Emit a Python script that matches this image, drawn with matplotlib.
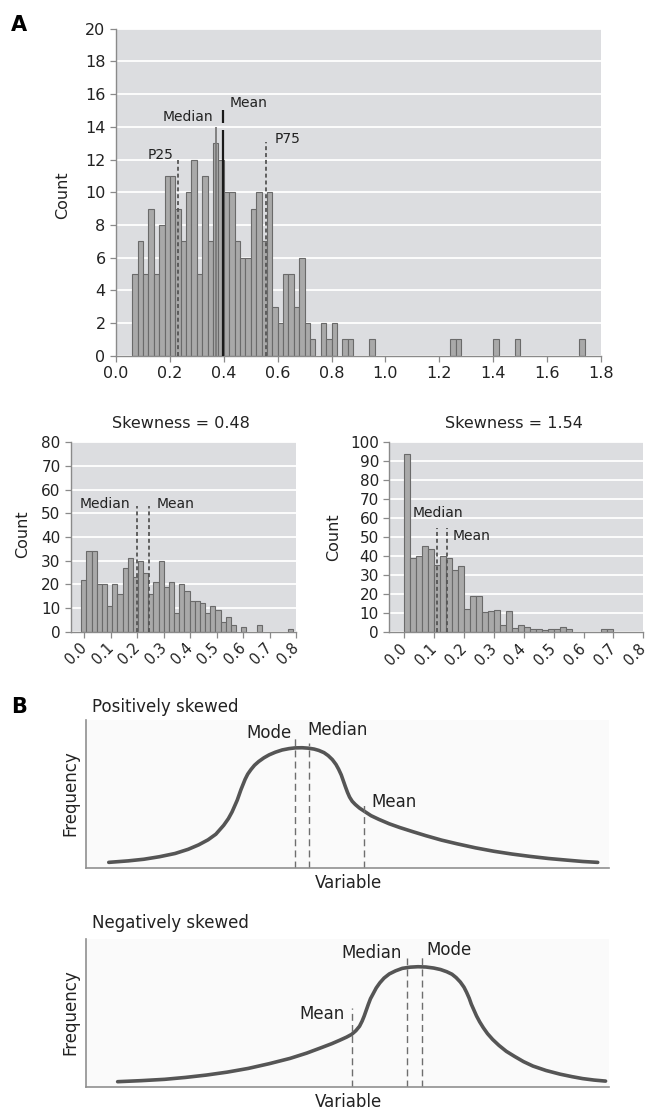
import numpy as np
import matplotlib
matplotlib.use("Agg")
import matplotlib.pyplot as plt

W, H = 648, 1112
plt.rcParams["font.family"] = ["DejaVu Sans"]

# ---- panel A, top histogram: bins of 0.02 starting at 0.06 ----
top_counts = [5, 7, 5, 9, 5, 8, 11, 11, 9, 7, 10, 12, 5, 11, 7, 13, 12, 10, 10, 7,
              6, 6, 9, 10, 7, 10, 3, 2, 5, 5, 3, 6, 2, 1, 0, 2, 1, 2, 0, 1,
              1, 0, 0, 0, 1]
top_out_left = [1.24, 1.26, 1.40, 1.48, 1.72]
top_out_counts = [1, 1, 1, 1, 1]
top_stats = {"P25": 0.231, "Median": 0.37, "Mean": 0.397, "P75": 0.556}
top_xticks = [0.0, 0.2, 0.4, 0.6, 0.8, 1.0, 1.2, 1.4, 1.6, 1.8]

# ---- panel A, small histograms ----
left_counts = [22, 34, 34, 20, 20, 11, 20, 16, 27, 31, 23, 30, 25, 16, 21, 30, 19, 21, 8, 20,
               17, 13, 13, 12, 8, 11, 9, 4, 6, 3, 0, 2, 0, 0, 3, 0, 0, 0, 0, 0, 1]
left_median, left_mean = 0.20, 0.245
right_counts = [94, 39, 40, 45.5, 44, 35.5, 40, 39, 33, 35, 12.5, 19, 19, 10.5, 11, 11.5,
                4, 11, 2.5, 4, 3, 2, 1.5, 1, 2, 1.5, 3, 1.5, 0, 0, 0, 0, 0, 1.5, 1.5]
right_median, right_mean = 0.108, 0.142
small_xticks = [0.0, 0.1, 0.2, 0.3, 0.4, 0.5, 0.6, 0.7, 0.8]

# ---- panel B, schematic curves (0-100 units) ----
pos_x = [4.3, 8, 11, 14, 17, 19.5, 21.5, 23.3, 24.8, 26.3, 27.2, 27.9, 28.4, 28.9, 29.6,
         30.4, 30.9, 31.5, 32.2, 33, 34, 35, 36.2, 37.5, 38.8, 40, 41.3, 42.5, 43.6, 44.5,
         45.5, 46.3, 47.1, 47.8, 48.3, 48.8, 49.2, 49.6, 50, 50.4, 50.9, 51.5, 52.3, 53.2,
         54.5, 56, 58, 60, 62.5, 65, 68, 71, 74.5, 78, 81.5, 85, 88.5, 92, 95, 97.9]
pos_y = [4.0, 5, 6.1, 7.8, 10, 12.8, 15.8, 19.2, 23, 29, 33.5, 38, 42, 46, 53,
         60, 63.5, 66.5, 69.5, 72, 74.5, 76.5, 78.3, 79.8, 80.7, 81.2, 81.3, 81, 80.4, 79.5,
         78, 76, 73.3, 70, 66.8, 63, 59, 55, 51.2, 48, 45.2, 43, 40.6, 38.5,
         35.5, 33, 30, 27.5, 24.7, 22, 19, 16.5, 13.8, 11.5, 9.6, 8, 6.6, 5.5, 4.6, 4.0]
pos_marks = {"Mode": (40.0, 87.6), "Median": (42.7, 84.3), "Mean": (53.2, 45)}

neg_x = [6, 10.5, 15, 19, 23, 27, 31, 35, 39, 42.2, 45, 47, 48.5, 49.8, 50.8, 51.6, 52.3,
         52.8, 53.2, 53.6, 54, 54.4, 54.9, 55.5, 56.2, 57, 58, 59.2, 60.5, 62, 63.5, 65,
         66.5, 67.8, 69, 70, 70.8, 71.6, 72.3, 72.8, 73.3, 73.7, 74.2, 74.7, 75.3, 76,
         76.8, 77.8, 79, 80.4, 82, 83.7, 85.5, 88, 90.7, 93, 95, 97.2, 99.4]
neg_y = [3.4, 4.1, 5, 6.3, 7.9, 9.9, 12.4, 15.6, 19.2, 22.8, 26.5, 29.2, 31.5, 33.6, 35.5, 38, 41,
         44.5, 48, 52, 56, 59.7, 63, 67, 70.5, 73.7, 76.5, 78.6, 80.3, 81.1, 81.4, 81.2,
         80.5, 79.5, 78, 76.3, 74, 71, 67.5, 64, 60, 56, 52, 48, 44, 40,
         36, 32, 28, 24, 20.5, 17, 14, 11, 8.5, 6.8, 5.5, 4.5, 3.8]
neg_marks = {"Mean": (50.8, 53.6), "Median": (61.3, 87), "Mode": (64.3, 90)}

BG = "#dcdde0"
BAR = "#a9a9a9"
EDGE = "#6a6a6a"
SPINE = "#8a8a8a"
TXT = "#222222"


def rect(l, t, r, b):
    return [l / W, 1 - b / H, (r - l) / W, (b - t) / H]


def ftext(x, y, s, **kw):
    kw.setdefault("color", TXT)
    fig.text(x / W, 1 - y / H, s, **kw)


def style_hist(ax):
    ax.set_facecolor(BG)
    ax.yaxis.grid(True, color="white", lw=1.3)
    ax.set_axisbelow(True)
    for s in ["top", "right"]:
        ax.spines[s].set_visible(False)
    for s in ["left", "bottom"]:
        ax.spines[s].set_color(SPINE)
        ax.spines[s].set_linewidth(1.0)
    ax.tick_params(direction="out", length=4, width=0.9, color=SPINE,
                   labelcolor=TXT, labelsize=11)


fig = plt.figure(figsize=(W / 100, H / 100), dpi=100)

# top histogram
ax = fig.add_axes(rect(116, 28.7, 601, 355.7))
style_hist(ax)
edges = 0.06 + 0.02 * np.arange(len(top_counts))
ax.bar(edges, top_counts, width=0.02, align="edge", color=BAR, edgecolor=EDGE, lw=0.8, zorder=2)
ax.bar(top_out_left, top_out_counts, width=0.02, align="edge", color=BAR, edgecolor=EDGE, lw=0.8, zorder=2)
ax.vlines(top_stats["Median"], 0, 14, color="#7a7a7a", lw=1.3, zorder=3)
ax.vlines(top_stats["Mean"], 0, 13.8, color="#1a1a1a", lw=1.6, zorder=4)
ax.vlines(top_stats["Mean"], 14.25, 15, color="#1a1a1a", lw=1.6, zorder=4)
ax.vlines(top_stats["P25"], 0, 12, color="#555555", lw=1.3, linestyles=(0, (2.2, 1.6)), zorder=3)
ax.vlines(top_stats["P75"], 0, 13.1, color="#555555", lw=1.3, linestyles=(0, (2.2, 1.6)), zorder=3)
ax.text(0.212, 12.3, "P25", ha="right", va="center", fontsize=10, color=TXT)
ax.text(0.587, 13.25, "P75", ha="left", va="center", fontsize=10, color=TXT)
ax.text(0.36, 14.6, "Median", ha="right", va="center", fontsize=10, color=TXT)
ax.text(0.42, 15.45, "Mean", ha="left", va="center", fontsize=10, color=TXT)
ax.set_xlim(0, 1.8)
ax.set_ylim(0, 20)
ax.set_yticks(range(0, 21, 2))
ax.set_xticks(top_xticks)
ax.set_xticklabels([f"{v:.1f}" for v in top_xticks])
ax.tick_params(labelsize=11.5)
ftext(62.5, 195, "Count", rotation=90, ha="center", va="center", fontsize=11.5)
ftext(11, 25, "A", ha="left", va="center", fontsize=15, fontweight="bold", color="black")

# small histograms
small = [
    (rect(71, 442.3, 296, 631.7), left_counts, -0.012, 0.0195, left_median, left_mean,
     (0, 80), -0.051, "Skewness = 0.48", 181, 22.5, 534),
    (rect(389.3, 442.3, 643.3, 632.3), right_counts, 0.0, 0.02, right_median, right_mean,
     (0, 100), -0.05, "Skewness = 1.54", 513.5, 334, 537),
]
for i, (r, counts, start, bw, med, mean, ylim, x0, title, tx, cx, cy) in enumerate(small):
    ax = fig.add_axes(r)
    style_hist(ax)
    lefts = start + bw * np.arange(len(counts))
    ax.bar(lefts, counts, width=bw, align="edge", color=BAR, edgecolor=EDGE, lw=0.8, zorder=2)
    top = 53 if i == 0 else 55
    ax.vlines([med, mean], 0, top, color="#555555", lw=1.3, linestyles=(0, (2.2, 1.6)), zorder=3)
    if i == 0:
        ax.text(0.172, 54, "Median", ha="right", va="center", fontsize=10, color=TXT)
        ax.text(0.273, 54, "Mean", ha="left", va="center", fontsize=10, color=TXT)
    else:
        ax.text(0.029, 63, "Median", ha="left", va="center", fontsize=10, color=TXT)
        ax.text(0.163, 50.6, "Mean", ha="left", va="center", fontsize=10, color=TXT)
    ax.set_xlim(x0, 0.8)
    ax.set_ylim(*ylim)
    ax.set_yticks(range(ylim[0], ylim[1] + 1, 10))
    ax.set_xticks(small_xticks)
    ax.set_xticklabels([f"{v:.1f}" for v in small_xticks], rotation=45, ha="right",
                       va="center", rotation_mode="anchor", fontsize=10.5)
    ax.tick_params(axis="x", pad=6)
    ftext(tx, 423, title, ha="center", va="center", fontsize=11.5)
    ftext(cx, cy, "Count", rotation=90, ha="center", va="center", fontsize=11.5)

# panel B
curves = [
    (rect(86.3, 720, 608.7, 868.3), pos_x, pos_y, pos_marks, "Positively skewed", 707, 793, 883),
    (rect(86.3, 939.3, 608.7, 1086.7), neg_x, neg_y, neg_marks, "Negatively skewed", 923, 1012, 1102),
]
label_pos = {
    0: {"Mode": (39.3, 91, "right"), "Median": (42.4, 93.5, "left"), "Mean": (54.6, 44.5, "left")},
    1: {"Median": (60.3, 91, "right"), "Mode": (65.1, 92.5, "left"), "Mean": (49.4, 49, "right")},
}
for i, (r, cx_, cy_, marks, title, ty, fy, vy) in enumerate(curves):
    ax = fig.add_axes(r)
    ax.set_facecolor("#fafafa")
    for s in ["top", "right"]:
        ax.spines[s].set_visible(False)
    for s in ["left", "bottom"]:
        ax.spines[s].set_color("#909090")
        ax.spines[s].set_linewidth(1.2)
    ax.set_xticks([])
    ax.set_yticks([])
    ax.plot(cx_, cy_, color="#555555", lw=2.6, solid_joinstyle="round", solid_capstyle="round")
    for name, (x, ytop) in marks.items():
        ax.vlines(x, 0, ytop, color="#6e6e6e", lw=1.0, linestyles=(0, (5, 3)))
        lx, ly, ha = label_pos[i][name]
        ax.text(lx, ly, name, ha=ha, va="center", fontsize=12, color=TXT)
    ax.set_xlim(0, 100)
    ax.set_ylim(0, 100)
    ftext(92, ty, title, ha="left", va="center", fontsize=12)
    ftext(70, fy, "Frequency", rotation=90, ha="center", va="center", fontsize=12)
    ftext(348, vy, "Variable", ha="center", va="center", fontsize=12)

ftext(11, 707, "B", ha="left", va="center", fontsize=15, fontweight="bold", color="black")

fig.savefig("out.png", dpi=100)
